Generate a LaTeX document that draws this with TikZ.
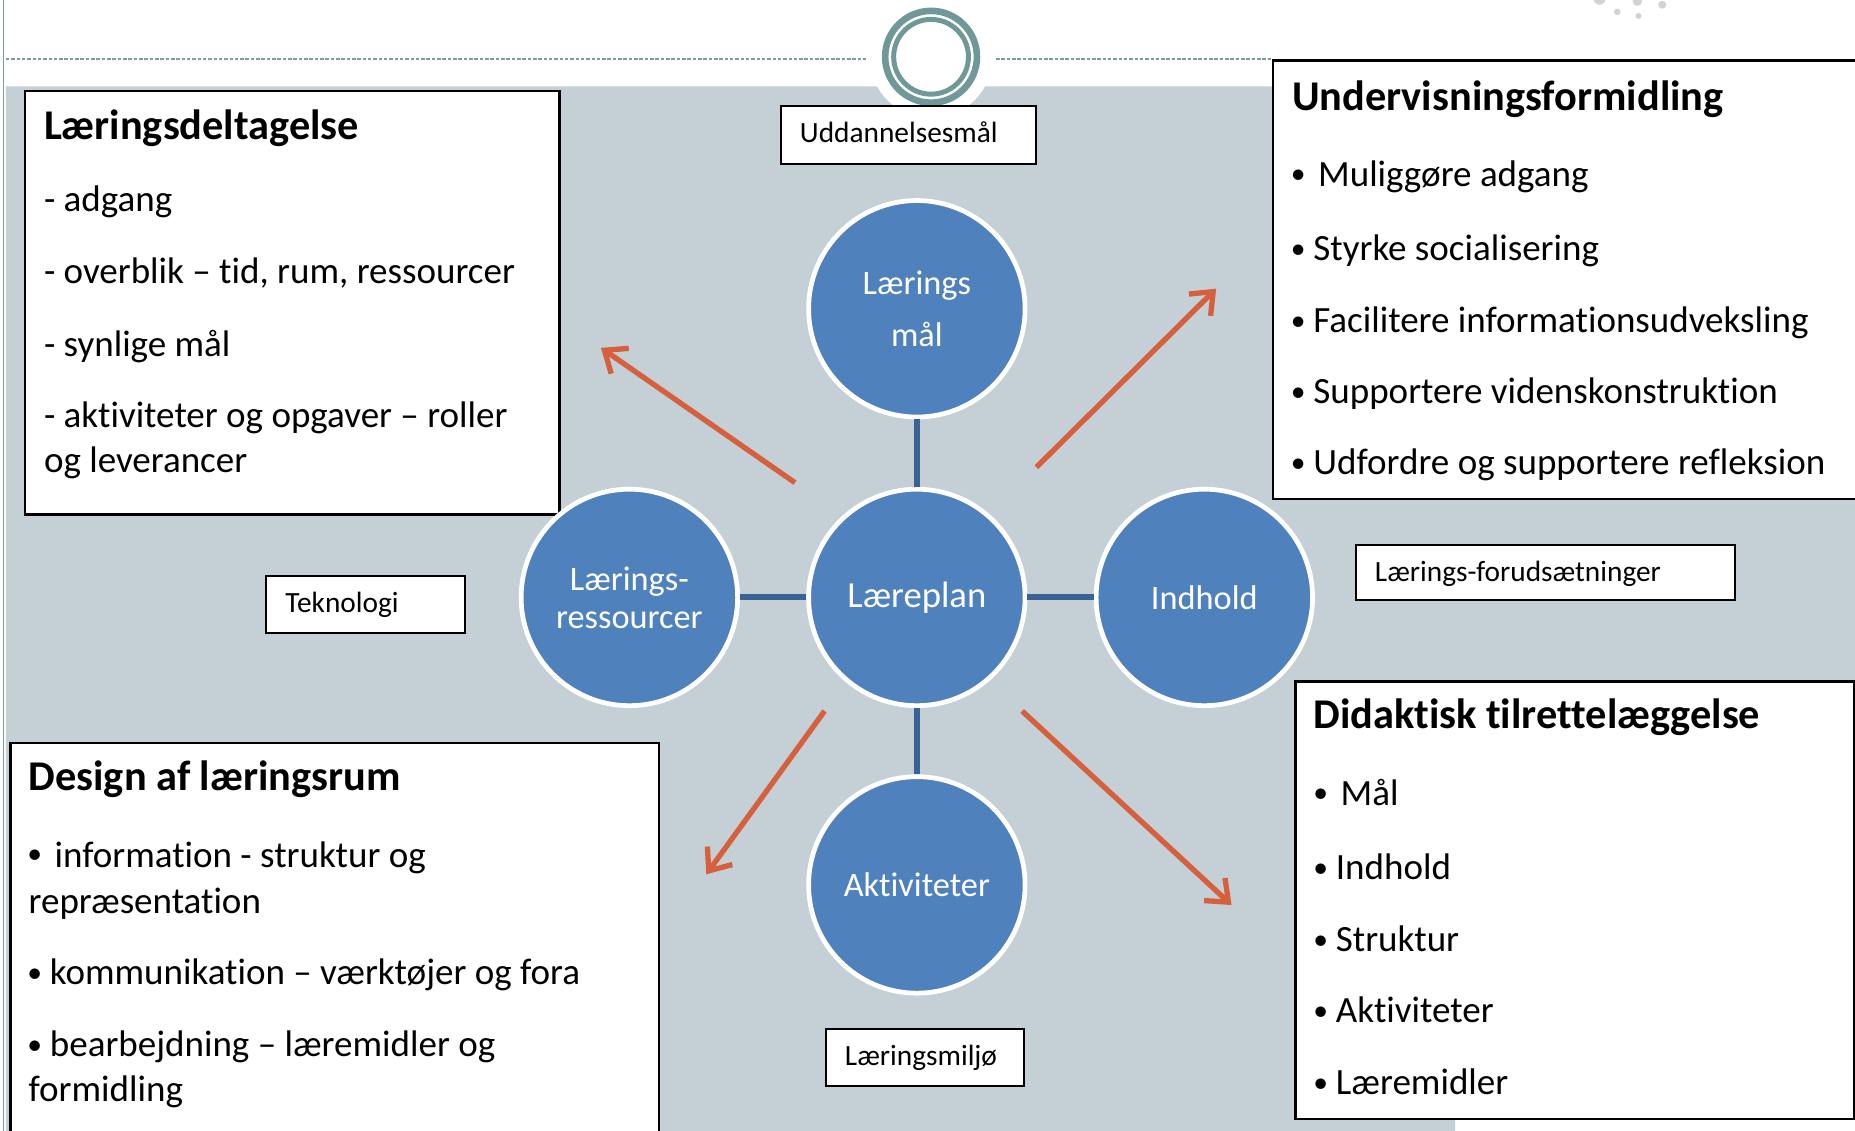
\documentclass[tikz,border=0pt]{standalone}
\usepackage{fontspec}
\setmainfont{Carlito}[Ligatures=NoCommon]
\usetikzlibrary{arrows.meta}
\definecolor{bggray}{RGB}{197,208,214}
\definecolor{ringteal}{RGB}{112,152,152}
\definecolor{dashteal}{RGB}{122,158,160}
\definecolor{circblue}{RGB}{79,129,189}
\definecolor{linkblue}{RGB}{58,98,148}
\definecolor{arroworange}{RGB}{214,96,62}
\definecolor{dotgray}{RGB}{208,210,214}
\newcommand\bulA{\makebox[19pt][l]{\raisebox{1.5pt}{\fontsize{25}{25}\selectfont •}}}
\newcommand\bulB{\makebox[23pt][l]{\raisebox{3pt}{\fontsize{25}{25}\selectfont •}}}
\tikzset{
 box/.style={draw=black, line width=2pt, fill=white, rectangle, inner sep=0pt, anchor=north west},
 lbl/.style={draw=black, line width=1.8pt, fill=white, rectangle, inner sep=0pt, anchor=north west},
 ttl/.style={anchor=base west, inner sep=0pt, font=\fontsize{35.8}{43}\selectfont\bfseries},
 txt/.style={anchor=base west, inner sep=0pt, font=\fontsize{31.3}{38}\selectfont},
 sml/.style={anchor=base west, inner sep=0pt, font=\fontsize{24.8}{30}\selectfont},
 circ/.style={circle, fill=circblue, draw=white, line width=4pt, minimum size=183pt, inner sep=0pt, text=white, align=center, font=\fontsize{29}{44}\selectfont},
 link/.style={draw=linkblue, line width=5pt},
 oarrow/.style={draw=arroworange, line width=4.5pt, -{Straight Barb[length=16pt,width=26pt]}},
}
\begin{document}
\begin{tikzpicture}[x=1pt,y=-1pt]
\useasboundingbox (0,0) rectangle (1568,956);
\clip (0,0) rectangle (1568,956);
\fill[white] (0,0) rectangle (1568,956);
% background
\fill[bggray] (5,73) -- (1568,73) -- (1568,945) -- (1230,945) -- (1230,956) -- (5,956) -- cycle;
\draw[dashteal, line width=1.5pt] (3,0) -- (3,956);
\draw[dashteal, line width=1.3pt, dash pattern=on 3pt off 1.5pt] (5,50) -- (732,50);
\draw[dashteal, line width=1.3pt, dash pattern=on 3pt off 1.5pt] (842,50) -- (1075,50);
% top ring
\fill[white] (787,48) circle (52pt);
\draw[ringteal, line width=5.6pt] (787,48) circle (38.8pt);
\draw[ringteal, line width=4.2pt] (787,48) circle (31.6pt);
% decorative dots
\fill[dotgray] (1367,10) circle (2.8pt);
\fill[dotgray] (1385,13.5) circle (2.5pt);
\fill[dotgray] (1405,4) circle (3.4pt);
\fill[dotgray] (1384,1) circle (4pt);
\fill[dotgray] (1352,-1) circle (5pt);

% big boxes
\node[box, minimum width=452pt, minimum height=358pt] (bx1) at (20,76) {};
\node[ttl] (bx1t) at (37,118) {Læringsdeltagelse};
\node[txt] (bx1a) at (37,179) {- adgang};
\node[txt] (bx1b) at (37,240) {- overblik – tid, rum, ressourcer};
\node[txt] (bx1c) at (37,301) {- synlige mål};
\node[txt] (bx1d) at (37,361) {- aktiviteter og opgaver – roller};
\node[txt] (bx1e) at (37,399) {og leverancer};

\node[box, minimum width=505pt, minimum height=371pt] (bx2) at (1075,50) {};
\node[ttl] (bx2t) at (1092,93) {Undervisningsformidling};
\node[txt] (bx2a) at (1091,158) {\bulB Muliggøre adgang};
\node[txt] (bx2b) at (1091,220) {\bulA Styrke socialisering};
\node[txt] (bx2c) at (1091,281) {\bulA Facilitere informationsudveksling};
\node[txt] (bx2d) at (1091,341) {\bulA Supportere videnskonstruktion};
\node[txt] (bx2e) at (1091,401) {\bulA Udfordre og supportere refleksion};

\node[box, minimum width=548pt, minimum height=340pt] (bx3) at (8,627) {};
\node[ttl] (bx3t) at (24,668) {Design af læringsrum};
\node[txt] (bx3a) at (23,733) {\bulB information - struktur og};
\node[txt] (bx3b) at (24,772) {repræsentation};
\node[txt] (bx3c) at (23,832) {\bulA kommunikation – værktøjer og fora};
\node[txt] (bx3d) at (23,893) {\bulA bearbejdning – læremidler og};
\node[txt] (bx3e) at (24,931) {formidling};

\node[box, minimum width=472pt, minimum height=370pt] (bx4) at (1094,575) {};
\node[ttl] (bx4t) at (1110,616) {Didaktisk tilrettelæggelse};
\node[txt] (bx4a) at (1110,681) {\bulB Mål};
\node[txt] (bx4b) at (1110,743) {\bulA Indhold};
\node[txt] (bx4c) at (1110,804) {\bulA Struktur};
\node[txt] (bx4d) at (1110,864) {\bulA Aktiviteter};
\node[txt] (bx4e) at (1110,925) {\bulA Læremidler};

% small labels
\node[lbl, minimum width=216pt, minimum height=49pt] (lu) at (659,89) {};
\node[sml] (lut) at (676,120.5) {Uddannelsesmål};
\node[lbl, minimum width=168pt, minimum height=48pt] (lt) at (224,486) {};
\node[sml] (ltt) at (241,517.5) {Teknologi};
\node[lbl, minimum width=321pt, minimum height=46pt] (lf) at (1145,460) {};
\node[sml] (lft) at (1162,491.5) {Lærings-forudsætninger};
\node[lbl, minimum width=168pt, minimum height=48pt] (lm) at (697,869) {};
\node[sml] (lmt) at (714,900.5) {Læringsmiljø};

% circles
\node[circ] (mal) at (775,261) {Lærings\\mål};
\node[circ, font=\fontsize{31}{36}\selectfont] (lp) at (775,505) {Læreplan};
\node[circ, font=\fontsize{29}{32}\selectfont] (res) at (532,505) {Lærings-\\ressourcer};
\node[circ] (ind) at (1018,505) {Indhold};
\node[circ] (akt) at (775,748) {Aktiviteter};

\draw[link] (lp) -- (mal);
\draw[link] (lp) -- (res);
\draw[link] (lp) -- (ind);
\draw[link] (lp) -- (akt);

% orange arrows
\coordinate (a1s) at (672,408); \coordinate (a1e) at (508,294);
\coordinate (a2s) at (876,395); \coordinate (a2e) at (1028,244);
\coordinate (a3s) at (697,601); \coordinate (a3e) at (597,739);
\coordinate (a4s) at (864,601); \coordinate (a4e) at (1041,765);
\draw[oarrow] (a1s) -- (a1e);
\draw[oarrow] (a2s) -- (a2e);
\draw[oarrow] (a3s) -- (a3e);
\draw[oarrow] (a4s) -- (a4e);
\end{tikzpicture}
\end{document}
